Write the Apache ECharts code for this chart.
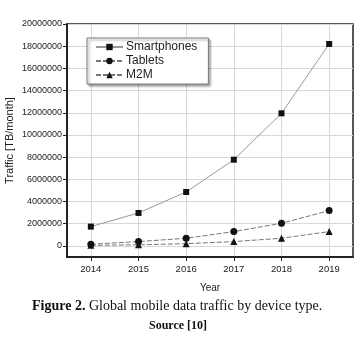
<!DOCTYPE html>
<html>
<head>
<meta charset="utf-8">
<script src="https://cdn.jsdelivr.net/npm/echarts@6/dist/echarts.min.js"></script>
<style>
  html, body { margin: 0; padding: 0; background: #fff; }
  #chart { width: 363px; height: 350px; }
</style>
</head>
<body>
<div id="chart"></div>
<script>
// 年份 / 数据
const years = [2014, 2015, 2016, 2017, 2018, 2019]
const smartphones = [1740000, 2970000, 4860000, 7770000, 11950000, 18200000]
const tablets = [150000, 390000, 690000, 1290000, 2040000, 3180000]
const m2m = [50000, 100000, 200000, 390000, 690000, 1290000]
const yTicks = [0, 2000000, 4000000, 6000000, 8000000, 10000000, 12000000, 14000000, 16000000, 18000000, 20000000]

const pairs = vals => vals.map((v, i) => [years[i], v])

const chart = echarts.init(document.getElementById('chart'))
chart.setOption({
  backgroundColor: '#fff',
  animation: false,
  textStyle: { fontFamily: 'Liberation Sans, Arial, sans-serif' },
  title: [
    {
      text: '{b|Figure 2.} Global mobile data traffic by device type.',
      left: 27,
      top: 294,
      textStyle: {
        fontFamily: 'Liberation Serif, Times New Roman, serif',
        fontSize: 14,
        fontWeight: 'normal',
        color: '#111',
        rich: {
          b: { fontFamily: 'Liberation Serif, Times New Roman, serif', fontSize: 14, fontWeight: 'bold', color: '#111' }
        }
      }
    },
    {
      text: 'Source [10]',
      left: 144,
      top: 315,
      textStyle: {
        fontFamily: 'Liberation Serif, Times New Roman, serif',
        fontSize: 12,
        fontWeight: 'bold',
        color: '#111'
      }
    }
  ],
  legend: {
    orient: 'vertical',
    left: 87,
    top: 38,
    padding: [3, 11, 3, 8],
    itemWidth: 27,
    itemHeight: 8,
    itemGap: 2,
    backgroundColor: '#fff',
    borderColor: '#777',
    borderWidth: 1,
    shadowColor: 'rgba(0, 0, 0, 0.35)',
    shadowBlur: 2,
    shadowOffsetX: 2,
    shadowOffsetY: 2,
    textStyle: { fontSize: 12, color: '#222', padding: [0, 0, 0, -2] },
    data: ['Smartphones', 'Tablets', 'M2M']
  },
  grid: {
    left: 67,
    top: 24,
    right: 10,
    bottom: 93,
    outerBoundsMode: 'none',
    containLabel: false,
    show: true,
    borderColor: '#222',
    borderWidth: 1.5
  },
  xAxis: {
    type: 'value',
    min: 2013.5,
    max: 2019.5,
    name: 'Year',
    nameLocation: 'middle',
    nameGap: 26,
    nameMoveOverlap: false,
    nameTextStyle: { fontSize: 10, color: '#222' },
    axisLine: { onZero: false, lineStyle: { color: '#222', width: 2 } },
    axisTick: { show: true, inside: false, length: 4, customValues: years, lineStyle: { color: '#222' } },
    axisLabel: { customValues: years, fontSize: 9.5, color: '#222', margin: 7, formatter: v => String(v) },
    splitLine: { show: true, lineStyle: { color: '#d8d8d8', width: 1 } }
  },
  yAxis: {
    type: 'value',
    min: -1000000,
    max: 20000000,
    name: 'Traffic [TB/month]',
    nameLocation: 'middle',
    nameGap: 52,
    nameMoveOverlap: false,
    nameTextStyle: { fontSize: 11, color: '#222' },
    axisLine: { show: true, onZero: false, lineStyle: { color: '#222', width: 2 } },
    axisTick: { show: true, inside: false, length: 4, customValues: yTicks, lineStyle: { color: '#222' } },
    axisLabel: { customValues: yTicks, fontSize: 9, color: '#222', margin: 5, formatter: v => String(v) },
    splitLine: { show: true, lineStyle: { color: '#d8d8d8', width: 1 } }
  },
  series: [
    {
      name: 'Smartphones',
      type: 'line',
      data: pairs(smartphones),
      symbol: 'rect',
      symbolSize: 6,
      itemStyle: { color: '#111' },
      lineStyle: { color: '#999', width: 1 }
    },
    {
      name: 'Tablets',
      type: 'line',
      data: pairs(tablets),
      symbol: 'circle',
      symbolSize: 7,
      itemStyle: { color: '#111' },
      lineStyle: { color: '#777', width: 1, type: [5, 2] }
    },
    {
      name: 'M2M',
      type: 'line',
      data: pairs(m2m),
      symbol: 'triangle',
      symbolSize: 7,
      itemStyle: { color: '#111' },
      lineStyle: { color: '#777', width: 1, type: [5, 2] }
    }
  ]
})
</script>
</body>
</html>
